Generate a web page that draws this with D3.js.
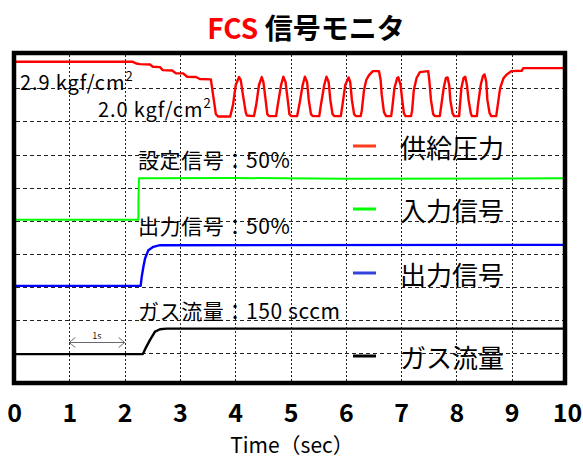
<!DOCTYPE html>
<html>
<head>
<meta charset="utf-8">
<script src="https://cdn.jsdelivr.net/npm/d3@7"></script>
<style>
  body { margin: 0; background: #fff; }
  text { font-family: "Noto Sans CJK JP", "Noto Sans", sans-serif; }
</style>
</head>
<body>
<div id="chart"></div>
<script>
// time (sec) vs. vertical position in grid divisions (0 = bottom, 10 = top)
var supplyPressure = [
  [0, 9.80], [2.15, 9.80], [2.21, 9.75], [2.28, 9.73], [2.46, 9.72], [2.51, 9.65], [2.64, 9.64],
  [2.69, 9.55], [2.86, 9.54], [2.93, 9.45], [3.06, 9.45], [3.13, 9.35], [3.29, 9.34], [3.36, 9.28],
  [3.56, 9.27], [3.60, 8.80], [3.65, 8.22], [3.69, 8.15], [3.91, 8.15],
  [3.96, 8.50], [4.01, 9.10], [4.07, 9.34], [4.10, 9.25], [4.14, 8.80], [4.19, 8.28], [4.21, 8.18], [4.34, 8.16],
  [4.38, 8.50], [4.43, 9.10], [4.48, 9.34], [4.51, 9.19], [4.55, 8.65], [4.58, 8.22], [4.61, 8.16], [4.74, 8.16],
  [4.77, 8.50], [4.83, 9.10], [4.87, 9.35], [4.91, 9.19], [4.95, 8.65], [4.98, 8.22], [5.01, 8.16], [5.12, 8.16],
  [5.16, 8.50], [5.22, 9.10], [5.26, 9.35], [5.30, 9.19], [5.33, 8.65], [5.37, 8.22], [5.40, 8.16], [5.52, 8.16],
  [5.55, 8.50], [5.61, 9.10], [5.65, 9.35], [5.69, 9.19], [5.72, 8.65], [5.76, 8.22], [5.79, 8.16], [5.91, 8.16],
  [5.94, 8.50], [5.99, 9.10], [6.05, 9.33], [6.08, 9.19], [6.11, 8.65], [6.15, 8.22], [6.18, 8.16], [6.27, 8.16],
  [6.29, 8.34], [6.33, 8.95], [6.37, 9.25], [6.42, 9.40], [6.49, 9.52], [6.60, 9.52], [6.63, 9.25], [6.65, 8.80],
  [6.69, 8.28], [6.73, 8.16], [6.82, 8.16],
  [6.84, 8.40], [6.88, 9.01], [6.93, 9.31], [6.95, 9.33], [6.99, 9.10], [7.02, 8.65], [7.05, 8.25], [7.08, 8.16], [7.18, 8.16],
  [7.20, 8.34], [7.23, 8.95], [7.28, 9.31], [7.34, 9.49], [7.49, 9.52], [7.51, 9.25], [7.54, 8.65], [7.58, 8.22],
  [7.61, 8.16], [7.70, 8.16],
  [7.72, 8.40], [7.77, 9.01], [7.81, 9.31], [7.84, 9.33], [7.87, 9.10], [7.89, 8.65], [7.93, 8.25], [7.96, 8.16], [8.05, 8.16],
  [8.06, 8.40], [8.09, 9.01], [8.13, 9.31], [8.16, 9.35], [8.19, 9.10], [8.22, 8.65], [8.26, 8.25], [8.28, 8.16], [8.37, 8.16],
  [8.39, 8.50], [8.44, 9.10], [8.48, 9.37], [8.51, 9.42], [8.54, 9.19], [8.56, 8.65], [8.60, 8.25], [8.63, 8.16], [8.72, 8.16],
  [8.79, 9.00], [8.85, 9.30], [8.91, 9.42], [9.00, 9.52], [9.18, 9.53], [9.21, 9.61], [10, 9.61]
];
var inputSignal = [[0, 5.03], [2.25, 5.03], [2.25, 5.60], [2.26, 6.28], [4.0, 6.29], [6.0, 6.27], [10, 6.28]];
var outputSignal = [[0, 3.03], [2.29, 3.03], [2.31, 3.31], [2.34, 3.61], [2.37, 3.86], [2.43, 4.11],
  [2.52, 4.21], [2.64, 4.26], [10, 4.27]];
var gasFlow = [[0, 0.97], [2.33, 0.97], [2.38, 1.15], [2.46, 1.40], [2.55, 1.65], [2.64, 1.72], [2.76, 1.74], [10, 1.74]];

var xTicks = [0, 1, 2, 3, 4, 5, 6, 7, 8, 9, 10];
var gridRows = [1, 2, 3, 4, 5, 6, 7, 8, 9];
var legendLabels = ["供給圧力", "入力信号", "出力信号", "ガス流量"];
var legendColors = ["#ff3c1e", "#00ff00", "#3344dd", "#000000"];
var traceColors = ["#ff0000", "#00ff00", "#0000ff", "#000000"];

var width = 583, height = 461;
var svg = d3.select("#chart").append("svg")
  .attr("width", width).attr("height", height)
  .style("background", "#fff");

var x = d3.scaleLinear().domain([0, 10]).range([14, 567]),
    y = d3.scaleLinear().domain([0, 10]).range([386.2, 55.2]);

// title
var title = svg.append("text").attr("x", 306).attr("y", 39)
  .attr("text-anchor", "middle").style("font-size", "28px").style("font-weight", "bold");
title.append("tspan").attr("fill", "#ff0000").text("FCS");
title.append("tspan").attr("fill", "#000").text(" 信号モニタ");

svg.append("clipPath").attr("id", "plotclip").append("rect")
  .attr("x", 16).attr("y", 55).attr("width", 547).attr("height", 326);

// grid
var grid = svg.append("g").attr("stroke", "#222").attr("stroke-width", 1);
grid.selectAll("line.v").data(xTicks.slice(1, -1)).enter().append("line")
  .attr("class", "v")
  .attr("x1", d => Math.round(x(d)) + 0.5).attr("x2", d => Math.round(x(d)) + 0.5)
  .attr("y1", 55).attr("y2", 381)
  .attr("stroke-dasharray", "2,2");
grid.selectAll("line.h").data(gridRows).enter().append("line")
  .attr("class", "h")
  .attr("x1", 16).attr("x2", 563)
  .attr("y1", d => Math.round(y(d)) + 0.5).attr("y2", d => Math.round(y(d)) + 0.5)
  .attr("stroke-dasharray", "4,3");

// traces
var line = d3.line().x(d => x(d[0])).y(d => y(d[1]));
var traces = svg.append("g").attr("clip-path", "url(#plotclip)");
[supplyPressure, inputSignal, outputSignal, gasFlow].forEach(function(s, i) {
  traces.append("path").datum(s)
    .attr("d", line)
    .attr("fill", "none")
    .attr("stroke", traceColors[i])
    .attr("stroke-width", i == 1 ? 2 : 2.4)
    .attr("stroke-linejoin", "round");
});

// frame
svg.append("rect").attr("x", 14).attr("y", 53).attr("width", 551).attr("height", 330)
  .attr("fill", "none").attr("stroke", "#000").attr("stroke-width", 4.5);

// 1s marker
var ay = 342.5, a0 = x(1), a1 = x(2);
var mark = svg.append("g").attr("stroke", "#444").attr("stroke-width", 0.8).attr("fill", "none");
mark.append("line").attr("x1", a0).attr("x2", a1).attr("y1", ay).attr("y2", ay);
mark.append("path").attr("d", "M" + (a0 + 6) + "," + (ay - 5) + "Q" + (a0 + 1) + "," + (ay - 1) + " " + a0 + "," + ay +
  "Q" + (a0 + 1) + "," + (ay + 1) + " " + (a0 + 6) + "," + (ay + 5));
mark.append("path").attr("d", "M" + (a1 - 6) + "," + (ay - 5) + "Q" + (a1 - 1) + "," + (ay - 1) + " " + a1 + "," + ay +
  "Q" + (a1 - 1) + "," + (ay + 1) + " " + (a1 - 6) + "," + (ay + 5));
svg.append("text").attr("x", (a0 + a1) / 2).attr("y", 339).attr("text-anchor", "middle")
  .style("font-size", "9px").attr("fill", "#222").text("1s");

// annotations
function supText(x0, y0, base) {
  var t = svg.append("text").attr("x", x0).attr("y", y0).style("font-size", "20px")
    .style("letter-spacing", "0.9px").attr("fill", "#000");
  t.append("tspan").text(base);
  t.append("tspan").attr("dy", -9).style("font-size", "13px").text("2");
}
supText(20, 90, "2.9 kgf/cm");
supText(98, 117, "2.0 kgf/cm");

var notes = [
  { text: "設定信号：50%", y: 168 },
  { text: "出力信号：50%", y: 234 },
  { text: "ガス流量：150 sccm", y: 319 }
];
svg.selectAll("text.note").data(notes).enter().append("text")
  .attr("class", "note")
  .attr("x", 138).attr("y", d => d.y)
  .style("font-size", "21px").style("letter-spacing", "0.6px").attr("fill", "#000")
  .text(d => d.text);

// legend
var legendY = [158, 221, 285, 368];
var lg = svg.selectAll("g.legend").data(legendLabels).enter().append("g")
  .attr("class", "legend")
  .attr("transform", (d, i) => "translate(0," + legendY[i] + ")");
lg.append("line").attr("x1", 353).attr("x2", 376).attr("y1", -12).attr("y2", -12)
  .attr("stroke", (d, i) => legendColors[i]).attr("stroke-width", 3);
lg.append("text").attr("x", 400).attr("y", 0)
  .style("font-size", "26px").attr("fill", "#000")
  .text(d => d);

// x axis
var xAxis = d3.axisBottom(x).tickValues(xTicks).tickSize(0).tickPadding(0).tickFormat(d3.format("d"));
var ax = svg.append("g").attr("transform", "translate(0,399)").call(xAxis);
ax.select(".domain").remove();
ax.selectAll("text")
  .attr("dy", "0.92em")
  .style("font-family", "'Noto Sans CJK JP', sans-serif")
  .style("font-size", "25px").style("font-weight", "bold").attr("fill", "#000");

svg.append("text").attr("x", 292).attr("y", 453).attr("text-anchor", "middle")
  .style("font-size", "21px").attr("fill", "#000").text("Time（sec）");
</script>
</body>
</html>
